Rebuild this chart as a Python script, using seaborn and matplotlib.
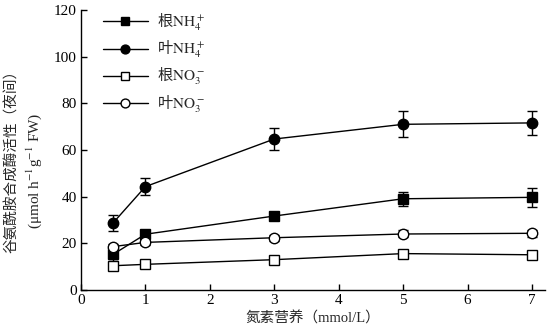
import matplotlib
matplotlib.use("Agg")
import matplotlib.pyplot as plt
import seaborn as sns
import pandas as pd

sns.set_theme(style="ticks")
plt.rcParams["font.family"] = ["Liberation Serif", "Noto Sans CJK SC"]
plt.rcParams["mathtext.fontset"] = "stix"

# Nitrogen supply (mmol/L)
nitrogen = [0.5, 1, 3, 5, 7]

# Glutamine synthetase activity at night, mean and error
root_nh4 = [15.3, 23.9, 31.7, 39.1, 39.7]
root_nh4_err = [3.0, 2.0, 1.0, 3.0, 4.0]
leaf_nh4 = [28.8, 44.3, 64.7, 71.0, 71.6]
leaf_nh4_err = [3.5, 3.8, 4.7, 5.5, 5.0]
root_no3 = [10.4, 11.0, 13.0, 15.6, 15.1]
root_no3_err = [0.8, 0.8, 0.8, 0.8, 0.8]
leaf_no3 = [18.6, 20.4, 22.4, 24.0, 24.3]
leaf_no3_err = [1.2, 1.2, 1.2, 1.5, 1.5]

labels = ["根$\\mathrm{NH}_4^+$", "叶$\\mathrm{NH}_4^+$",
          "根$\\mathrm{NO}_3^-$", "叶$\\mathrm{NO}_3^-$"]
x_ticks = [0, 1, 2, 3, 4, 5, 6, 7]
y_ticks = [0, 20, 40, 60, 80, 100, 120]

series = [
    (root_nh4, root_nh4_err, "s", "black", 6.5),
    (leaf_nh4, leaf_nh4_err, "o", "black", 7.5),
    (root_no3, root_no3_err, "s", "white", 6.5),
    (leaf_no3, leaf_no3_err, "o", "white", 7.5),
]

fig = plt.figure(figsize=(5.49, 3.35), dpi=100)
ax = fig.add_axes([0.1475, 0.1343, 0.845, 0.836])

for (vals, errs, mk, fc, ms), lab in zip(series, labels):
    df = pd.DataFrame({"x": nitrogen, "y": vals})
    ax.errorbar(nitrogen, vals, yerr=errs, fmt="none", ecolor="black",
                elinewidth=1.0, capsize=3.5, capthick=1.0, zorder=2)
    sns.lineplot(data=df, x="x", y="y", ax=ax, color="black", linewidth=1.0,
                 marker=mk, markersize=ms, markerfacecolor=fc,
                 markeredgecolor="black", markeredgewidth=1.0,
                 label=lab, zorder=3)

ax.set_xlim(0, 7.2)
ax.set_ylim(0, 120)
ax.set_xticks(x_ticks)
ax.set_yticks(y_ticks)
ax.tick_params(direction="in", length=4, width=1.0, labelsize=11,
               colors="black", pad=3)
for s in ["top", "right"]:
    ax.spines[s].set_visible(False)
for s in ["left", "bottom"]:
    ax.spines[s].set_linewidth(1.0)
    ax.spines[s].set_color("black")

ax.set_xlabel("氮素营养（mmol/L）", fontsize=10.5, labelpad=3)
ax.set_ylabel("")
fig.text(0.022, 0.528, "谷氨酰胺合成酶活性（夜间）", rotation=90,
         ha="center", va="center", fontsize=10.5,
         family=["Noto Sans CJK SC"])
fig.text(0.062, 0.49, "(μmol h$^{-1}$g$^{-1}$ FW)", rotation=90,
         ha="center", va="center", fontsize=11)

leg = ax.legend(loc="upper left", bbox_to_anchor=(0.027, 1.027), frameon=False,
                handlelength=2.95, handletextpad=0.6, labelspacing=0.4,
                fontsize=11, borderaxespad=0.2, markerscale=0.85)
for t in leg.get_texts():
    t.set_family(["Noto Sans CJK SC"])

fig.savefig("out.png", dpi=100)
